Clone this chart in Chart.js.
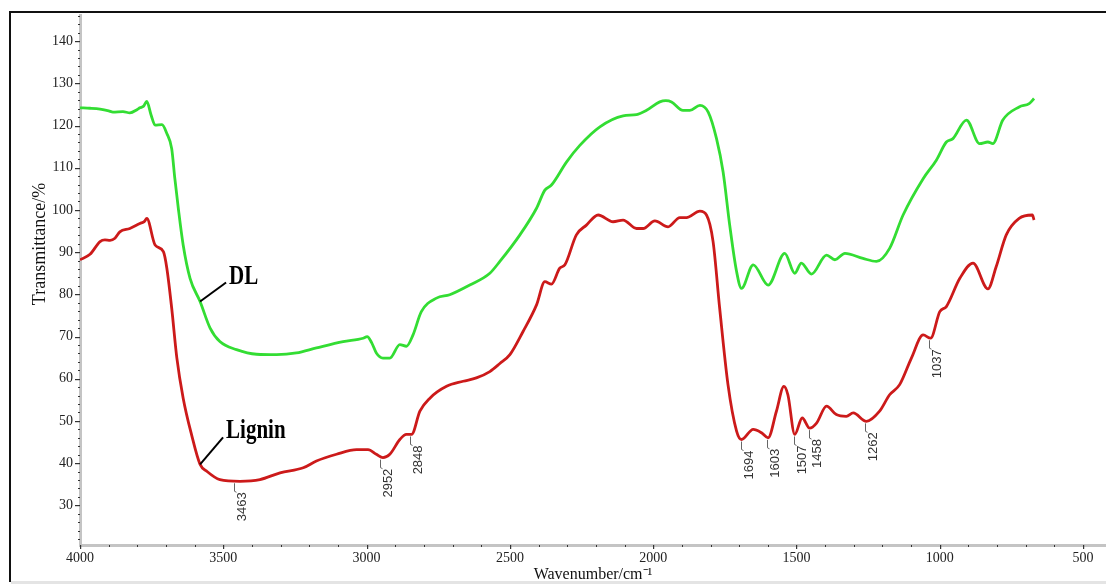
<!DOCTYPE html>
<html><head><meta charset="utf-8">
<script src="https://cdn.jsdelivr.net/npm/chart.js@4.4.1/dist/chart.umd.min.js"></script>
<style>html,body{margin:0;padding:0;background:#fff;overflow:hidden}#c{display:block}</style>
</head><body>
<canvas id="c" width="1106" height="584"></canvas>
<script>
// ---- data ----
const dlWavenumber = [4000,3965,3930,3900,3885,3850,3826,3800,3791,3778,3767,3752,3738,3714,3697,3680,3669,3657,3640,3616,3581,3546,3512,3454,3384,3314,3245,3175,3082,3012,2998,2982,2966,2943,2919,2884,2861,2838,2809,2756,2710,2640,2570,2535,2465,2407,2378,2355,2302,2256,2186,2105,2058,2023,1977,1956,1936,1896,1872,1837,1808,1779,1756,1733,1709,1692,1651,1599,1541,1506,1483,1448,1395,1366,1331,1268,1221,1175,1128,1058,1012,977,954,907,861,832,815,780,723,688,671];
const dlTransmittance = [124.2,124.1,123.9,123.5,123.2,123.3,123.0,123.8,124.2,124.6,125.7,122.5,120.1,120.2,118.1,114.5,107.4,100.4,91.7,83.8,78.3,72.0,68.8,66.9,65.8,65.7,66.1,67.3,68.8,69.6,70.0,68.5,66.1,64.9,64.9,68.1,67.7,70.4,75.9,79.1,79.9,82.2,85.0,87.8,94.1,100.4,104.7,105.9,111.4,115.3,119.7,122.3,122.6,123.6,125.6,125.9,125.6,123.6,123.6,124.8,123.2,116.9,109.0,96.4,85.4,81.4,87.0,82.2,89.7,85.0,87.4,84.8,89.3,88.2,89.7,88.5,87.8,90.9,98.8,107.4,111.8,116.1,116.9,121.3,115.7,116.1,115.7,121.3,124.4,125.2,126.4];

const ligninWavenumber = [4000,3965,3930,3913,3895,3878,3861,3826,3791,3775,3767,3738,3709,3697,3680,3662,3640,3611,3581,3558,3512,3442,3372,3302,3221,3175,3105,3035,2995,2966,2943,2919,2884,2861,2843,2814,2779,2721,2663,2617,2570,2535,2500,2454,2407,2378,2355,2326,2308,2268,2233,2192,2140,2105,2058,2035,1994,1948,1907,1884,1837,1814,1791,1768,1739,1709,1692,1651,1622,1599,1570,1544,1530,1506,1480,1454,1430,1395,1361,1326,1302,1256,1210,1175,1140,1099,1058,1032,1000,977,930,884,832,803,768,723,677,671];
const ligninTransmittance = [88.2,89.5,92.5,92.9,92.8,93.3,94.8,95.6,96.8,97.3,98.0,91.7,90.1,86.2,76.7,64.9,55.4,46.8,39.7,38.1,36.1,35.7,36.1,37.7,38.9,40.5,42.1,43.2,43.2,42.1,41.3,42.1,45.6,46.8,46.8,52.3,55.4,58.2,59.4,60.2,61.7,63.6,65.7,71.2,77.5,83.0,82.4,86.2,87.0,94.1,96.4,98.8,97.2,97.6,95.6,95.6,97.4,96.0,98.2,98.2,99.7,98.8,92.5,76.7,58.6,47.6,45.6,48.0,47.2,46.0,52.3,58.2,56.2,46.8,50.7,48.3,49.5,53.5,51.5,51.1,51.9,49.9,52.3,56.2,58.6,64.9,70.4,69.6,75.9,77.1,83.8,87.4,81.3,86.6,94.1,98.0,98.8,97.6];

const peakWavenumber = [3463,2952,2848,1694,1603,1507,1458,1262,1037];
const peakTransmittance = [35.7,41.3,46.8,45.6,46.0,46.8,48.3,49.9,69.6];
const peakLabels = ['3463','2952','2848','1694','1603','1507','1458','1262','1037'];

const seriesNames = ['DL','Lignin'];
const xMajorTicks = [4000,3500,3000,2500,2000,1500,1000,500];
const yMajorTicks = [30,40,50,60,70,80,90,100,110,120,130,140];
const xAxisTitle = 'Wavenumber/cm\u207B\u00B9';
const yAxisTitle = 'Transmittance/%';

function pts(xs, ys){ return xs.map((x,i)=>({x:x, y:ys[i]})); }

const decor = {
  id:'decor',
  beforeDraw(chart){
    const ctx = chart.ctx;
    ctx.save();
    ctx.fillStyle = '#fff';
    ctx.fillRect(0,0,chart.width,chart.height);
    // outer frame
    ctx.fillStyle = '#111';
    ctx.fillRect(9,11,chart.width-9,2);
    ctx.fillRect(9,11,2,571);
    ctx.fillStyle = '#e4e4e4';
    ctx.fillRect(11,581,chart.width-11,3);
    ctx.restore();
  },
  afterDraw(chart){
    const ctx = chart.ctx;
    const xs = chart.scales.x, ys = chart.scales.y;
    const ca = chart.chartArea;
    ctx.save();
    // minor / major tick marks
    ctx.fillStyle = '#333';
    for (let v = 22; v <= 146; v += 2) {
      const y = Math.round(ys.getPixelForValue(v));
      if (y < ca.top) continue;
      if (yMajorTicks.includes(v)) ctx.fillRect(ca.left-5, y, 5, 1.2);
      else ctx.fillRect(ca.left-2, y, 2, 1);
    }
    for (let v = 500; v <= 4000; v += 100) {
      const x = Math.round(xs.getPixelForValue(v));
      if (xMajorTicks.includes(v)) ctx.fillRect(x, ca.bottom, 1.2, 4);
      else ctx.fillRect(x, ca.bottom, 1, 2);
    }
    // y axis title
    ctx.fillStyle = '#111';
    ctx.font = '18px "Liberation Serif", serif';
    ctx.save();
    ctx.translate(40, 244);
    ctx.rotate(-Math.PI/2);
    ctx.textAlign = 'center';
    ctx.textBaseline = 'middle';
    ctx.fillText(yAxisTitle, 0, 0);
    ctx.restore();
    // peak annotations
    ctx.strokeStyle = '#666';
    ctx.lineWidth = 1;
    ctx.fillStyle = '#333';
    ctx.font = '13px "Liberation Sans", Arial, sans-serif';
    peakWavenumber.forEach((wn,i)=>{
      const x = Math.round(xs.getPixelForValue(wn)) + 0.5;
      const y = ys.getPixelForValue(peakTransmittance[i]);
      ctx.beginPath();
      ctx.moveTo(x, y+2);
      ctx.lineTo(x, y+10);
      ctx.lineTo(x+2, y+11);
      ctx.stroke();
      ctx.save();
      ctx.translate(x+7.5, y+11);
      ctx.rotate(-Math.PI/2);
      ctx.textAlign = 'right';
      ctx.textBaseline = 'middle';
      ctx.fillText(peakLabels[i], 0, 0);
      ctx.restore();
    });
    // series labels with leader lines
    const anchors = [
      {wn:3581, v:78.3, dx:26, dy:-19},
      {wn:3581, v:39.7, dx:23, dy:-27}
    ];
    ctx.strokeStyle = '#000';
    ctx.lineWidth = 2;
    ctx.fillStyle = '#000';
    anchors.forEach((a,i)=>{
      const x = xs.getPixelForValue(a.wn), y = ys.getPixelForValue(a.v);
      ctx.beginPath();
      ctx.moveTo(x, y);
      ctx.lineTo(x+a.dx, y+a.dy);
      ctx.stroke();
      ctx.save();
      ctx.translate(x+a.dx+3, y+a.dy+1);
      ctx.scale(1, 1.25);
      ctx.font = 'bold 21px "Liberation Serif", serif';
      ctx.textAlign = 'left';
      ctx.textBaseline = 'alphabetic';
      ctx.fillText(seriesNames[i], 0, 0);
      ctx.restore();
    });
    ctx.restore();
  }
};

new Chart(document.getElementById('c'), {
  type:'line',
  data:{
    datasets:[
      {label:seriesNames[0], data:pts(dlWavenumber, dlTransmittance), borderColor:'#33dd33', borderWidth:2.8, pointRadius:0, cubicInterpolationMode:'monotone', fill:false},
      {label:seriesNames[1], data:pts(ligninWavenumber, ligninTransmittance), borderColor:'#cc1a1a', borderWidth:2.8, pointRadius:0, cubicInterpolationMode:'monotone', fill:false}
    ]
  },
  options:{
    responsive:false,
    animation:false,
    devicePixelRatio:1,
    layout:{padding:{top:13,left:0,right:0,bottom:0}},
    plugins:{legend:{display:false}, tooltip:{enabled:false}},
    scales:{
      x:{
        type:'linear', reverse:true, min:420, max:4000,
        afterFit(s){ s.height = 39; },
        grid:{display:false, drawTicks:false},
        border:{display:true, color:'#c4c4c4', width:3},
        afterBuildTicks(s){ s.ticks = xMajorTicks.map(v=>({value:v})); },
        ticks:{padding:5, color:'#222', maxRotation:0, autoSkip:false, font:{family:'"Liberation Serif", serif', size:14}, callback:v=>String(v)},
        title:{display:true, text:xAxisTitle, color:'#111', padding:{top:0,bottom:0}, font:{family:'"Liberation Serif", serif', size:16}}
      },
      y:{
        min:20.6, max:146.1,
        afterFit(s){ s.width = 80; },
        grid:{display:false, drawTicks:false},
        border:{display:true, color:'#c4c4c4', width:3},
        afterBuildTicks(s){ s.ticks = yMajorTicks.map(v=>({value:v})); },
        ticks:{padding:7, color:'#222', autoSkip:false, font:{family:'"Liberation Serif", serif', size:14}, callback:v=>String(v)}
      }
    }
  },
  plugins:[decor]
});
</script>
</body></html>
